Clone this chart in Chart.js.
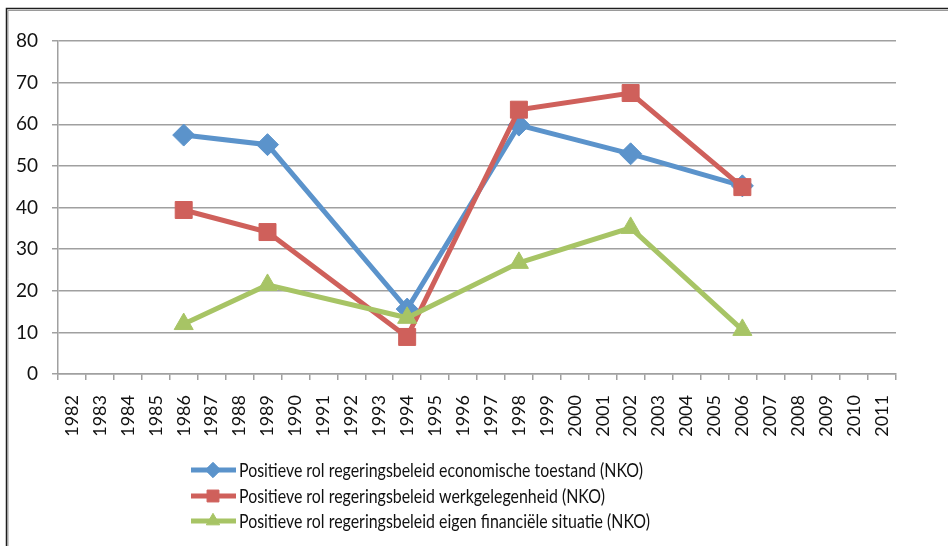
<!DOCTYPE html>
<html>
<head>
<meta charset="utf-8">
<script src="https://cdn.jsdelivr.net/npm/chart.js@4.4.1/dist/chart.umd.min.js"></script>
<style>
  html, body { margin: 0; padding: 0; background: #fff; }
  #wrap { width: 948px; height: 546px; position: relative; }
</style>
</head>
<body>
<div id="wrap"><canvas id="chart" width="948" height="546"></canvas></div>
<script>
// data
const years = []
for (let y = 1982; y <= 2011; y++) years.push(String(y))

const economie = { 1986: 57.4, 1989: 55.1, 1994: 15.6, 1998: 59.8, 2002: 52.9, 2006: 45.2 }
const werk = { 1986: 39.4, 1989: 34.1, 1994: 8.9, 1998: 63.5, 2002: 67.5, 2006: 44.9 }
const financieel = { 1986: 12.0, 1989: 21.4, 1994: 13.5, 1998: 26.7, 2002: 35.1, 2006: 10.6 }

const seriesNames = [
	"Positieve rol regeringsbeleid economische toestand (NKO)",
	"Positieve rol regeringsbeleid werkgelegenheid (NKO)",
	"Positieve rol regeringsbeleid eigen financiële situatie (NKO)"
]
const yTicks = [0, 10, 20, 30, 40, 50, 60, 70, 80]

// spread the sparse values over the category list
toSeries = (obj) => years.map(y => (obj[y] === undefined ? null : obj[y]))

const FONT = "Lato, 'Open Sans', sans-serif"

// order: later series are painted on top, like in the original
const makeSet = (label, values, colour, style, radius, order) => ({
	label: label,
	data: toSeries(values),
	borderColor: colour,
	backgroundColor: colour,
	borderWidth: 5,
	pointStyle: style,
	pointRadius: radius,
	pointHoverRadius: radius,
	pointBorderWidth: 1,
	spanGaps: true,
	tension: 0,
	order: order
})

const datasets = [
	makeSet(seriesNames[0], economie, "#5b93cb", "rectRot", 11, 2),
	makeSet(seriesNames[1], werk, "#cf605b", "rect", 12, 1),
	makeSet(seriesNames[2], financieel, "#a7c465", "triangle", 11, 0)
]

// frame round the picture (top and left edge only are visible)
const framePlugin = {
	id: "frame",
	afterDraw: (chart) => {
		const ctx = chart.ctx
		ctx.save()
		ctx.strokeStyle = "#9a9a9a"
		ctx.lineWidth = 1
		ctx.beginPath()
		ctx.moveTo(8, 546); ctx.lineTo(8, 10.5); ctx.lineTo(948, 10.5)
		ctx.stroke()
		ctx.strokeStyle = "#1e1e1e"
		ctx.lineWidth = 1.5
		ctx.beginPath()
		ctx.moveTo(6.5, 546); ctx.lineTo(6.5, 8.5); ctx.lineTo(948, 8.5)
		ctx.stroke()
		ctx.restore()
	}
}

// vertical legend with line + marker, left aligned like the original
const legendPlugin = {
	id: "sideLegend",
	afterDraw: (chart) => {
		const ctx = chart.ctx
		ctx.save()
		ctx.font = "19px " + FONT
		ctx.textBaseline = "middle"
		// narrow the text a bit, the original face is condensed
		const sx = 404 / ctx.measureText(chart.data.datasets[0].label).width
		const x0 = 191, rowY = [470, 496, 521]
		chart.data.datasets.forEach((ds, i) => {
			const y = rowY[i]
			ctx.strokeStyle = ds.borderColor
			ctx.lineWidth = 5
			ctx.beginPath()
			ctx.moveTo(x0, y); ctx.lineTo(x0 + 45, y)
			ctx.stroke()
			ctx.fillStyle = ds.backgroundColor
			ctx.lineWidth = 1
			Chart.helpers.drawPoint(ctx, { pointStyle: ds.pointStyle, radius: ds.pointRadius * 0.7, rotation: 0, borderWidth: 1 }, x0 + 22, y)
			ctx.save()
			ctx.translate(x0 + 48, y + 1)
			ctx.scale(sx, 1)
			ctx.fillStyle = "#111"
			ctx.fillText(ds.label, 0, 0)
			ctx.restore()
		})
		ctx.restore()
	}
}

new Chart(document.getElementById("chart"), {
	type: "line",
	data: { labels: years, datasets: datasets },
	options: {
		responsive: false,
		animation: false,
		layout: { padding: { left: 0, top: 41, right: 52, bottom: 0 } },
		plugins: { legend: { display: false }, tooltip: { enabled: false } },
		scales: {
			x: {
				offset: true,
				afterFit: (s) => { s.height = 172 },
				grid: { offset: true, drawOnChartArea: false, drawTicks: true, tickLength: 6, color: "#a0a0a0", lineWidth: 1.5 },
				border: { color: "#a0a0a0", width: 1.5 },
				ticks: { minRotation: 90, maxRotation: 90, autoSkip: false, padding: 15, color: "#111", font: { family: FONT, size: 18 } }
			},
			y: {
				min: 0,
				max: 80,
				afterFit: (s) => { s.width = 58 },
				afterBuildTicks: (s) => { s.ticks = yTicks.map(v => ({ value: v })) },
				grid: { color: "#a0a0a0", lineWidth: 1.5, tickLength: 6 },
				border: { color: "#a0a0a0", width: 1.5 },
				ticks: { padding: 14, color: "#111", font: { family: FONT, size: 19 } }
			}
		}
	},
	plugins: [framePlugin, legendPlugin]
})
</script>
</body>
</html>
